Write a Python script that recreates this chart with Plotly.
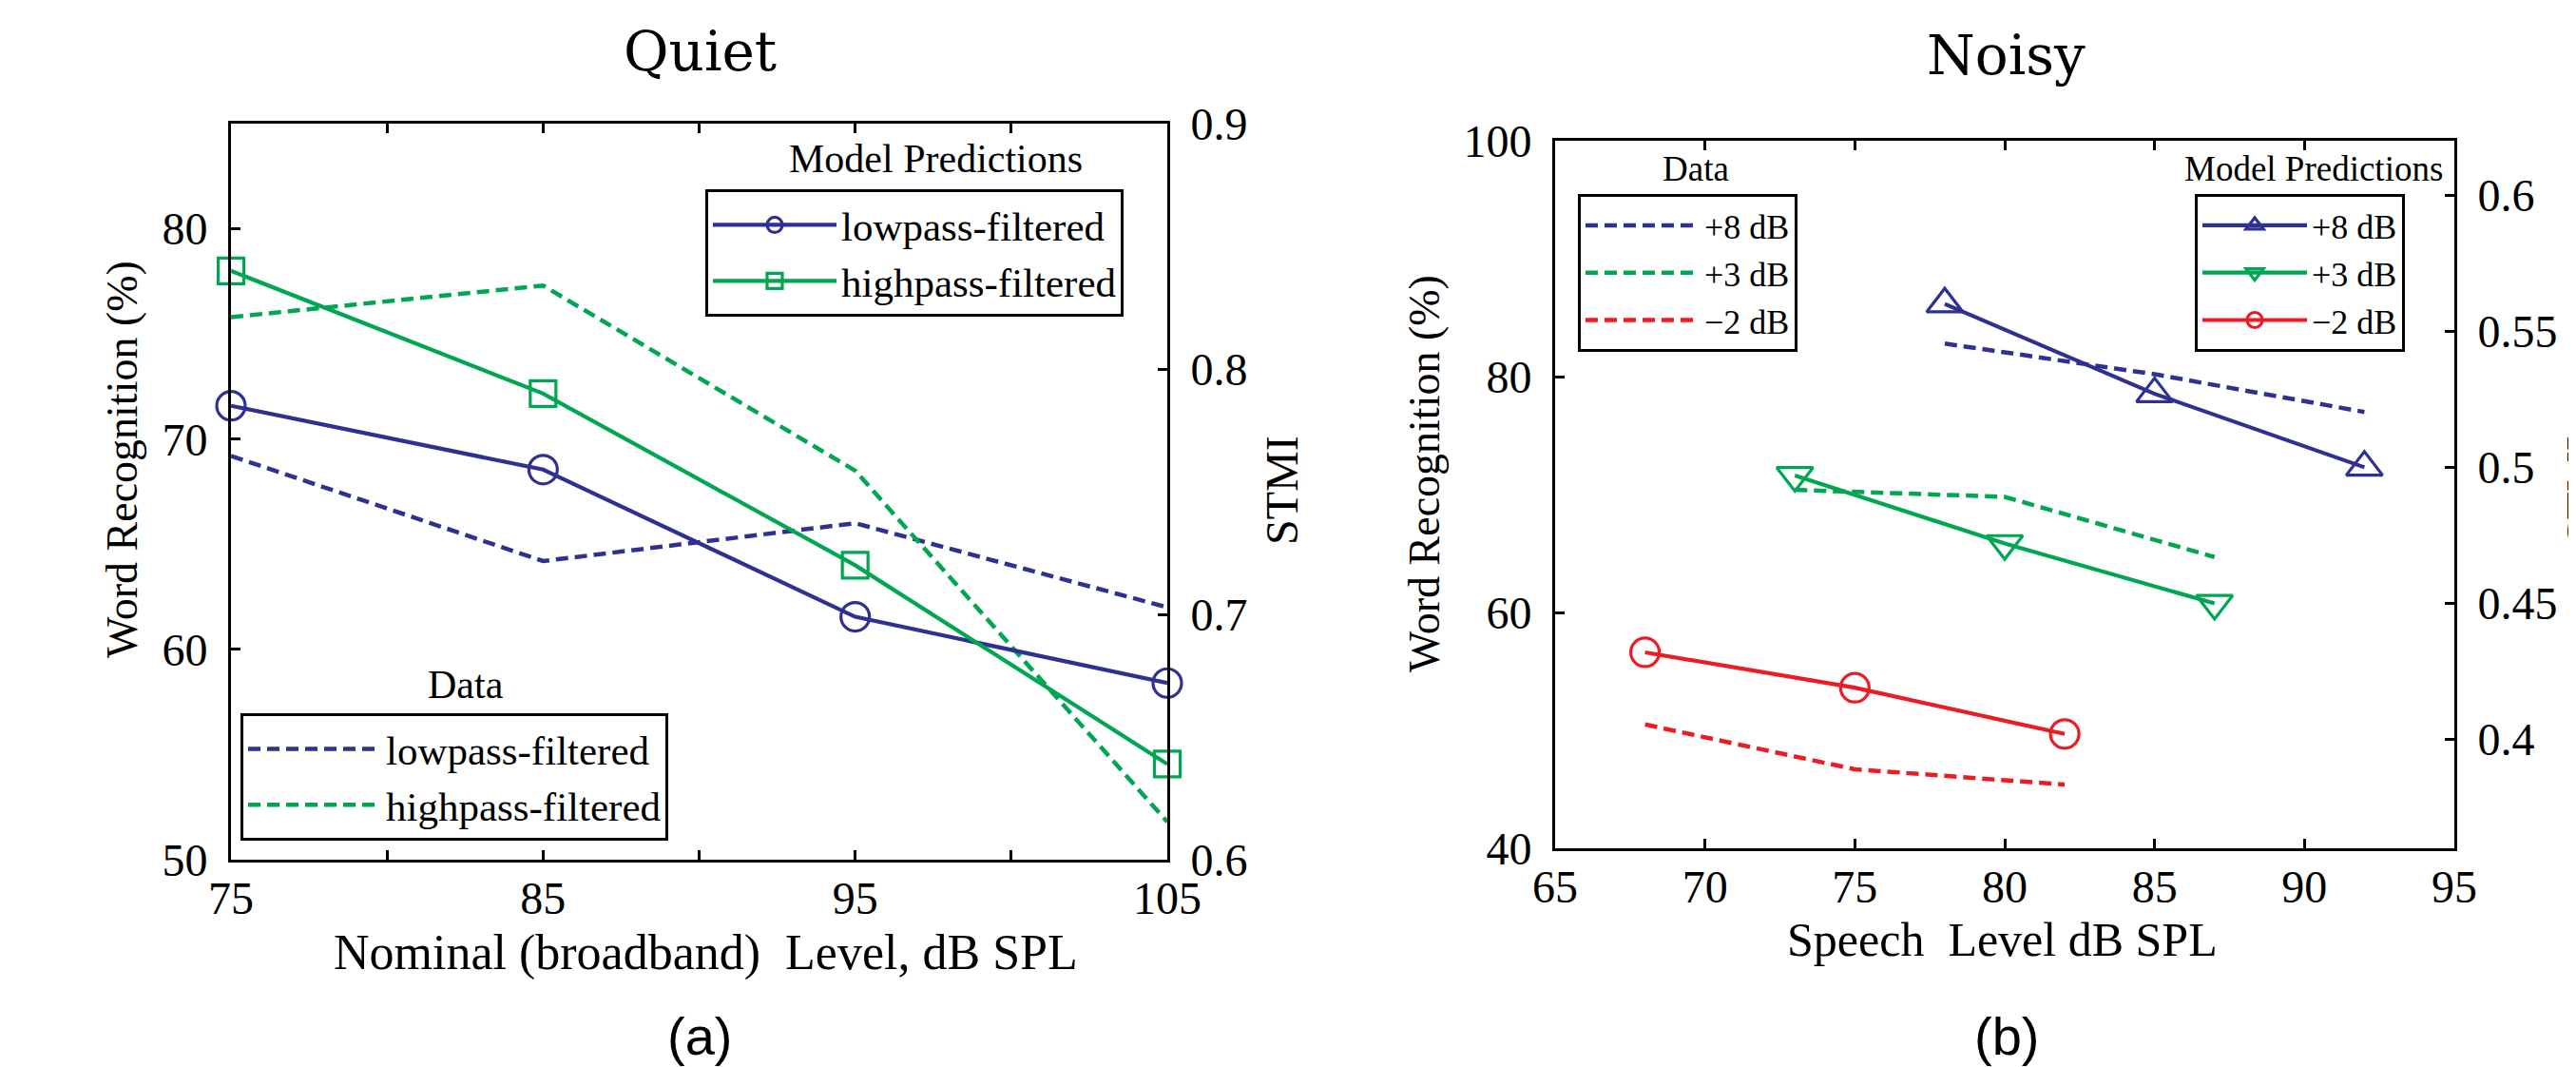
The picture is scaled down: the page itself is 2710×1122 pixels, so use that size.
import plotly.graph_objects as go

# ---------------- Panel (a): Quiet ----------------
quiet_levels = [75, 85, 95, 105]
quiet_lp_data = [69.2, 64.2, 66.0, 62.0]
quiet_hp_data = [75.8, 77.3, 68.5, 51.8]
quiet_lp_stmi = [0.785, 0.759, 0.699, 0.672]
quiet_hp_stmi = [0.840, 0.790, 0.720, 0.639]
quiet_xtickvals = [75, 80, 85, 90, 95, 100, 105]
quiet_xticktext = ["75", "", "85", "", "95", "", "105"]
quiet_ytickvals = [50, 60, 70, 80]
quiet_y2tickvals = [0.6, 0.7, 0.8, 0.9]

# ---------------- Panel (b): Noisy ----------------
noisy_lvl_p8 = [78, 85, 92]
noisy_lvl_p3 = [73, 80, 87]
noisy_lvl_m2 = [68, 75, 82]
noisy_p8_data = [82.8, 80.2, 77.0]
noisy_p3_data = [70.4, 69.8, 64.7]
noisy_m2_data = [50.5, 46.7, 45.4]
noisy_p8_stmi = [0.560, 0.527, 0.500]
noisy_p3_stmi = [0.497, 0.472, 0.450]
noisy_m2_stmi = [0.432, 0.419, 0.402]
noisy_xtickvals = [65, 70, 75, 80, 85, 90, 95]
noisy_ytickvals = [40, 60, 80, 100]
noisy_y2tickvals = [0.4, 0.45, 0.5, 0.55, 0.6]

BLUE = "#2E3192"
GREEN = "#00A651"
RED = "#ED1C24"
W, H = 2710, 1122
TIMES = "Liberation Serif"
CENTURY = "DejaVu Serif"
DASH = "13px,7px"
SOLID_W = 4.2
DASH_W = 4.5


def px(x):
    return x / W


def py(y):
    return 1 - y / H


fig = go.Figure()

# ---- Panel (a) data (dashed, left axis) ----
fig.add_trace(go.Scatter(x=quiet_levels, y=quiet_lp_data, mode="lines", name="lowpass-filtered",
                         line=dict(color=BLUE, width=DASH_W, dash=DASH), xaxis="x", yaxis="y",
                         legend="legend2"))
fig.add_trace(go.Scatter(x=quiet_levels, y=quiet_hp_data, mode="lines", name="highpass-filtered",
                         line=dict(color=GREEN, width=DASH_W, dash=DASH), xaxis="x", yaxis="y",
                         legend="legend2"))
# ---- Panel (a) model (solid, STMI axis) ----
fig.add_trace(go.Scatter(x=quiet_levels, y=quiet_lp_stmi, mode="lines+markers", name="lowpass-filtered",
                         line=dict(color=BLUE, width=SOLID_W),
                         marker=dict(symbol="circle-open", size=30, color=BLUE, line=dict(width=3.2, color=BLUE)),
                         xaxis="x", yaxis="y2", legend="legend", cliponaxis=False))
fig.add_trace(go.Scatter(x=quiet_levels, y=quiet_hp_stmi, mode="lines+markers", name="highpass-filtered",
                         line=dict(color=GREEN, width=SOLID_W),
                         marker=dict(symbol="square-open", size=27, color=GREEN, line=dict(width=3.2, color=GREEN)),
                         xaxis="x", yaxis="y2", legend="legend", cliponaxis=False))

# ---- Panel (b) data (dashed, left axis) ----
for xs, ys, c, nm in [(noisy_lvl_p8, noisy_p8_data, BLUE, "+8 dB"),
                      (noisy_lvl_p3, noisy_p3_data, GREEN, "+3 dB"),
                      (noisy_lvl_m2, noisy_m2_data, RED, "\u22122 dB")]:
    fig.add_trace(go.Scatter(x=xs, y=ys, mode="lines", name=nm,
                             line=dict(color=c, width=DASH_W, dash=DASH),
                             xaxis="x2", yaxis="y3", legend="legend3"))
# ---- Panel (b) model (solid, STMI axis) ----
for xs, ys, c, nm, sym in [(noisy_lvl_p8, noisy_p8_stmi, BLUE, "+8 dB", "triangle-up-open"),
                           (noisy_lvl_p3, noisy_p3_stmi, GREEN, "+3 dB", "triangle-down-open"),
                           (noisy_lvl_m2, noisy_m2_stmi, RED, "\u22122 dB", "circle-open")]:
    fig.add_trace(go.Scatter(x=xs, y=ys, mode="lines+markers", name=nm,
                             line=dict(color=c, width=SOLID_W),
                             marker=dict(symbol=sym, size=33 if sym != "circle-open" else 30,
                                         color=c, line=dict(width=3.2, color=c)),
                             xaxis="x2", yaxis="y4", legend="legend4", cliponaxis=False))

tickfont = dict(family=TIMES, size=48, color="black")
axcommon = dict(showline=True, linecolor="black", linewidth=3, ticks="inside", ticklen=10,
                tickwidth=2.5, tickcolor="black", showgrid=False, zeroline=False,
                tickfont=tickfont, automargin=False)

# domains from pixel geometry
A_L, A_R, A_T, A_B = 235, 1220, 122, 896
B_L, B_R, B_T, B_B = 1628, 2574, 140, 884

legcommon = dict(xanchor="left", yanchor="top", bgcolor="white", bordercolor="black",
                 borderwidth=3, tracegroupgap=0)

fig.update_layout(
    template="none",
    width=W, height=H, margin=dict(l=0, r=0, t=0, b=0, autoexpand=False),
    paper_bgcolor="white", plot_bgcolor="white",
    xaxis=dict(domain=[px(A_L), px(A_R)], range=[75, 105], tickmode="array",
               tickvals=quiet_xtickvals, ticktext=quiet_xticktext, mirror="ticks",
               anchor="y", ticklabelstandoff=-4, **axcommon),
    yaxis=dict(domain=[py(A_B), py(A_T)], range=[50, 85], tickmode="array",
               tickvals=quiet_ytickvals, anchor="x", ticklabelstandoff=12, **axcommon),
    yaxis2=dict(overlaying="y", side="right", range=[0.6, 0.9], tickmode="array",
                tickvals=quiet_y2tickvals, anchor="x", ticklabelstandoff=12, **axcommon),
    xaxis2=dict(domain=[px(B_L), px(B_R)], range=[65, 95], tickmode="array",
                tickvals=noisy_xtickvals, mirror="ticks", anchor="y3", ticklabelstandoff=-4,
                **axcommon),
    yaxis3=dict(domain=[py(B_B), py(B_T)], range=[40, 100], tickmode="array",
                tickvals=noisy_ytickvals, anchor="x2", ticklabelstandoff=12, **axcommon),
    yaxis4=dict(overlaying="y3", side="right", range=[0.36, 0.62], tickmode="array",
                tickvals=noisy_y2tickvals, anchor="x2", ticklabelstandoff=12, **axcommon),
    showlegend=True,
    legend=dict(x=px(734), y=py(191), font=dict(family=TIMES, size=43, color="black"),
                itemwidth=130, **legcommon),
    legend2=dict(x=px(245), y=py(742), font=dict(family=TIMES, size=43, color="black"),
                 itemwidth=140, **legcommon),
    legend3=dict(x=px(1652), y=py(196), font=dict(family=TIMES, size=36, color="black"),
                 itemwidth=120, **legcommon),
    legend4=dict(x=px(2301), y=py(196), font=dict(family=TIMES, size=36, color="black"),
                 itemwidth=110, **legcommon),
)

ann = []


def add_text(text, x, y, family, size, angle=0):
    ann.append(dict(text=text, x=px(x), y=py(y), xref="paper", yref="paper",
                    xanchor="center", yanchor="middle", showarrow=False, textangle=angle,
                    font=dict(family=family, size=size, color="black")))


# Panel (a) texts
add_text("Quiet", 728, 46, CENTURY, 58)
add_text("Word Recognition (%)", 120, 475, TIMES, 46, -90)
add_text("STMI", 1340, 508, TIMES, 48, -90)
add_text("Nominal (broadband)&nbsp;&nbsp;Level, dB SPL", 734, 994, TIMES, 52)
add_text("(a)", 728, 1081, "Liberation Sans", 56)
add_text("Model Predictions", 976, 159, TIMES, 42)
add_text("Data", 482, 712, TIMES, 42)

# Panel (b) texts
add_text("Noisy", 2102, 50, CENTURY, 58)
add_text("Word Recognition (%)", 1490, 490, TIMES, 46, -90)
add_text("STMI", 2708, 508, TIMES, 48, -90)
add_text("Speech&nbsp;&nbsp;Level dB SPL", 2098, 980, TIMES, 50)
add_text("(b)", 2103, 1081, "Liberation Sans", 56)
add_text("Model Predictions", 2426, 170, TIMES, 37)
add_text("Data", 1776, 170, TIMES, 37)

fig.update_layout(annotations=ann)

fig.write_html("out.html")
